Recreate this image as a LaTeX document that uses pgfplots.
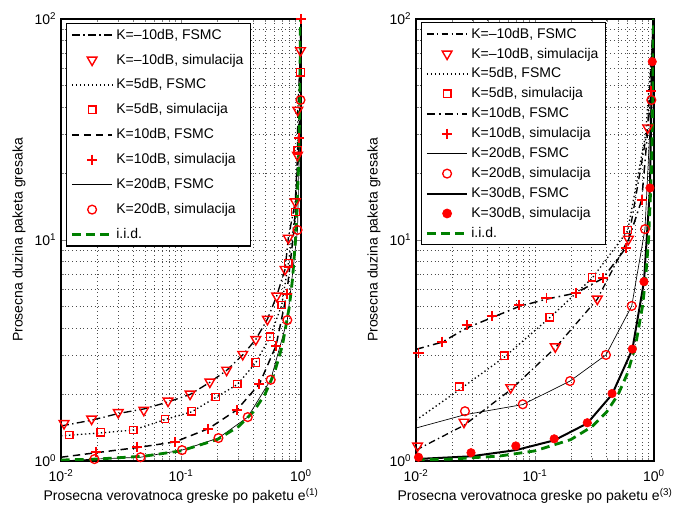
\documentclass[border=0pt]{standalone}
\usepackage{fontspec}
\setmainfont{Liberation Sans}
\usepackage{pgfplots}
\pgfplotsset{compat=1.18}
\definecolor{mgreen}{rgb}{0,0.5,0}
\begin{document}
\begin{tikzpicture}
\useasboundingbox (0,0) rectangle (515.25pt,382.5pt);
% ---------------- left ----------------
\begin{axis}[at={(45.75pt,36.75pt)}, anchor=south west,
  scale only axis, width=180pt, height=331.5pt,
  xmode=log, ymode=log,
  xmin=0.01, xmax=1, ymin=1, ymax=100,
  xtick={0.01,0.1,1},
  xticklabels={10\textsuperscript{-2},10\textsuperscript{-1},10\textsuperscript{0}},
  ytick={1,10,100},
  yticklabels={10\textsuperscript{0},10\textsuperscript{1},10\textsuperscript{2}},
  minor xtick={0.02,0.03,0.04,0.05,0.06,0.07,0.08,0.09,0.2,0.3,0.4,0.5,0.6,0.7,0.8,0.9},
  minor ytick={2,3,4,5,6,7,8,9,20,30,40,50,60,70,80,90},
  grid=both,
  major grid style={black!70, dash pattern=on 0.6pt off 2.2pt, line width=0.45pt},
  minor grid style={black!70, dash pattern=on 0.6pt off 2.2pt, line width=0.45pt},
  tick align=inside,
  major tick length=3.5pt, minor tick length=2pt,
  axis line style={line width=0.9pt},
  tick label style={font=\fontsize{10.5}{12}\selectfont},
  xticklabel style={yshift=-3pt},
  label style={font=\fontsize{10.5}{12}\selectfont},
  xlabel style={yshift=2pt},
  xlabel={Prosecna verovatnoca greske po paketu e\textsuperscript{(1)}},
  ylabel={Prosecna duzina paketa gresaka},
  legend cell align=left,
  legend style={font=\fontsize{10.5}{12}\selectfont, draw=black, line width=0.9pt,
    at={(0,1)}, anchor=north west, xshift=3.75pt, yshift=-3pt, row sep=5.6pt},
  legend image code/.code={\draw[mark repeat=2,mark phase=2] plot coordinates {(0cm,0cm) (0.53cm,0cm) (1.06cm,0cm)};},
]
\addplot[black, line width=1pt, no marks, dash pattern=on 6pt off 2.5pt on 1pt off 2.5pt] coordinates {(0.01,1.44) (0.018,1.53) (0.03,1.64) (0.049,1.72) (0.078,1.85) (0.119,2.0) (0.174,2.27) (0.24,2.57) (0.327,3.02) (0.42,3.55) (0.525,4.38) (0.627,5.58) (0.736,7.37) (0.784,10.2) (0.896,14.9) (0.935,24.2) (0.94,38.7) (0.99,72) (0.995,100)};
\addlegendentry{K=–10dB, FSMC}
\addplot[red, only marks, line width=1.05pt, mark=triangle, mark size=4.2pt, mark options={rotate=180}] coordinates {(0.0106,1.48) (0.018,1.55) (0.030,1.66) (0.049,1.70) (0.078,1.87) (0.119,2.01) (0.174,2.28) (0.240,2.58) (0.327,3.04) (0.42,3.55) (0.525,4.38) (0.627,5.58) (0.736,7.37) (0.784,10.2) (0.896,14.9) (0.935,24.2) (0.94,38.7) (0.99,72)};
\addlegendentry{K=–10dB, simulacija}
\addplot[black, line width=1pt, no marks, dotted] coordinates {(0.01,1.30) (0.0214,1.34) (0.040,1.38) (0.0736,1.54) (0.123,1.67) (0.195,1.94) (0.295,2.22) (0.419,2.78) (0.552,3.64) (0.69,5.07) (0.784,7.8) (0.9,13.4) (0.94,25.5) (0.99,57) (0.995,100)};
\addlegendentry{K=5dB, FSMC}
\addplot[red, only marks, line width=1pt, mark=square, mark size=2.8pt] coordinates {(0.0117,1.31) (0.0214,1.35) (0.040,1.38) (0.0736,1.55) (0.123,1.68) (0.195,1.95) (0.295,2.23) (0.419,2.79) (0.552,3.65) (0.69,5.08) (0.784,7.84) (0.9,13.4) (0.94,25.5) (0.99,57.4)};
\addlegendentry{K=5dB, simulacija}
\addplot[black, line width=1.1pt, no marks, dash pattern=on 5.5pt off 3.5pt] coordinates {(0.01,1.04) (0.0196,1.09) (0.0432,1.15) (0.089,1.22) (0.169,1.40) (0.291,1.70) (0.45,2.23) (0.619,3.32) (0.76,5.68) (0.88,11.5) (0.97,28.9) (0.998,100)};
\addlegendentry{K=10dB, FSMC}
\addplot[red, only marks, line width=1.4pt, mark=+, mark size=3.8pt] coordinates {(0.0196,1.10) (0.0432,1.16) (0.089,1.22) (0.169,1.40) (0.291,1.70) (0.45,2.23) (0.619,3.32) (0.76,5.68) (0.97,28.9) (0.998,100)};
\addlegendentry{K=10dB, simulacija}
\addplot[black, line width=0.5pt, no marks] coordinates {(0.01,1.0) (0.019,1.02) (0.046,1.04) (0.102,1.12) (0.205,1.27) (0.36,1.58) (0.559,2.33) (0.769,4.34) (0.935,11.1) (0.99,43) (0.998,100)};
\addlegendentry{K=20dB, FSMC}
\addplot[red, only marks, line width=1pt, mark=o, mark size=3.3pt] coordinates {(0.019,1.02) (0.046,1.04) (0.102,1.12) (0.205,1.27) (0.36,1.58) (0.559,2.33) (0.769,4.34) (0.935,11.1) (0.99,43)};
\addlegendentry{K=20dB, simulacija}
\addplot[mgreen, line width=2.1pt, dash pattern=on 6.5pt off 4pt, no marks] coordinates {(0.01,1.0101) (0.02,1.0204) (0.05,1.0526) (0.1,1.1111) (0.2,1.25) (0.3,1.4286) (0.4,1.6667) (0.5,2) (0.6,2.5) (0.7,3.3333) (0.8,5) (0.85,6.6667) (0.9,10) (0.95,20) (0.97,33.33) (0.98,50) (0.99,100)};
\addlegendentry{i.i.d.}
\end{axis}
% ---------------- right ----------------
\begin{axis}[at={(312pt,36.75pt)}, anchor=south west,
  scale only axis, width=178.5pt, height=331.5pt,
  xmode=log, ymode=log,
  xmin=0.01, xmax=1, ymin=1, ymax=100,
  xtick={0.01,0.1,1},
  xticklabels={10\textsuperscript{-2},10\textsuperscript{-1},10\textsuperscript{0}},
  ytick={1,10,100},
  yticklabels={10\textsuperscript{0},10\textsuperscript{1},10\textsuperscript{2}},
  minor xtick={0.02,0.03,0.04,0.05,0.06,0.07,0.08,0.09,0.2,0.3,0.4,0.5,0.6,0.7,0.8,0.9},
  minor ytick={2,3,4,5,6,7,8,9,20,30,40,50,60,70,80,90},
  grid=both,
  major grid style={black!70, dash pattern=on 0.6pt off 2.2pt, line width=0.45pt},
  minor grid style={black!70, dash pattern=on 0.6pt off 2.2pt, line width=0.45pt},
  tick align=inside,
  major tick length=3.5pt, minor tick length=2pt,
  axis line style={line width=0.9pt},
  tick label style={font=\fontsize{10.5}{12}\selectfont},
  xticklabel style={yshift=-3pt},
  label style={font=\fontsize{10.5}{12}\selectfont},
  xlabel style={yshift=2pt},
  xlabel={Prosecna verovatnoca greske po paketu e\textsuperscript{(3)}},
  ylabel={Prosecna duzina paketa gresaka},
  legend cell align=left,
  legend style={font=\fontsize{10.5}{12}\selectfont, draw=black, line width=0.9pt,
    at={(0,1)}, anchor=north west, xshift=3.75pt, yshift=-2.25pt, row sep=1.85pt},
  legend image code/.code={\draw[mark repeat=2,mark phase=2] plot coordinates {(0cm,0cm) (0.53cm,0cm) (1.06cm,0cm)};},
]
\addplot[black, line width=1pt, no marks, dash pattern=on 5pt off 2.5pt on 1pt off 2.5pt] coordinates {(0.01,1.12) (0.0253,1.45) (0.0625,2.1) (0.148,3.25) (0.334,5.4) (0.61,10.1) (0.885,32.2) (0.99,100)};
\addlegendentry{K=–10dB, FSMC}
\addplot[red, only marks, line width=1.05pt, mark=triangle, mark size=4.2pt, mark options={rotate=180}] coordinates {(0.0103,1.17) (0.0253,1.50) (0.0625,2.15) (0.148,3.29) (0.334,5.41) (0.61,10.1) (0.885,32.2)};
\addlegendentry{K=–10dB, simulacija}
\addplot[black, line width=1pt, no marks, dotted] coordinates {(0.01,1.53) (0.0231,2.1) (0.0552,2.95) (0.133,4.45) (0.301,6.7) (0.601,11) (0.85,30) (0.97,80) (0.99,100)};
\addlegendentry{K=5dB, FSMC}
\addplot[red, only marks, line width=1pt, mark=square, mark size=2.8pt] coordinates {(0.0231,2.17) (0.0552,2.99) (0.133,4.47) (0.301,6.78) (0.601,11.1)};
\addlegendentry{K=5dB, simulacija}
\addplot[black, line width=1.1pt, no marks, dash pattern=on 6pt off 3pt on 1.2pt off 3pt] coordinates {(0.01,3.2) (0.0166,3.45) (0.0267,4.0) (0.0433,4.45) (0.0734,5.0) (0.125,5.4) (0.22,5.75) (0.371,6.7) (0.58,9.2) (0.789,15.2) (0.944,47.2) (0.99,100)};
\addlegendentry{K=10dB, FSMC}
\addplot[red, only marks, line width=1.4pt, mark=+, mark size=3.8pt] coordinates {(0.0105,3.07) (0.0166,3.47) (0.0267,4.11) (0.0433,4.52) (0.0734,5.10) (0.125,5.47) (0.22,5.78) (0.371,6.73) (0.58,9.2) (0.789,15.2) (0.944,47.2)};
\addlegendentry{K=10dB, simulacija}
\addplot[black, line width=0.5pt, no marks] coordinates {(0.01,1.41) (0.0258,1.62) (0.0789,1.80) (0.197,2.30) (0.395,3.02) (0.65,5.03) (0.84,11.2) (0.95,43) (0.99,100)};
\addlegendentry{K=20dB, FSMC}
\addplot[red, only marks, line width=1pt, mark=o, mark size=3.3pt] coordinates {(0.0258,1.68) (0.0789,1.805) (0.197,2.30) (0.395,3.02) (0.65,5.03) (0.84,11.2) (0.95,43)};
\addlegendentry{K=20dB, simulacija}
\addplot[black, line width=1.5pt, no marks] coordinates {(0.01,1.02) (0.029,1.05) (0.069,1.12) (0.145,1.24) (0.275,1.48) (0.444,2.0) (0.658,3.2) (0.824,6.48) (0.925,17.2) (0.967,64) (0.985,100)};
\addlegendentry{K=30dB, FSMC}
\addplot[red, only marks, mark=*, mark size=3.2pt] coordinates {(0.0105,1.04) (0.029,1.09) (0.069,1.17) (0.145,1.26) (0.275,1.49) (0.444,2.02) (0.658,3.21) (0.824,6.48) (0.925,17.2) (0.967,64.1)};
\addlegendentry{K=30dB, simulacija}
\addplot[mgreen, line width=2.1pt, dash pattern=on 6.5pt off 4pt, no marks] coordinates {(0.01,1.0101) (0.02,1.0204) (0.05,1.0526) (0.1,1.1111) (0.2,1.25) (0.3,1.4286) (0.4,1.6667) (0.5,2) (0.6,2.5) (0.7,3.3333) (0.8,5) (0.85,6.6667) (0.9,10) (0.95,20) (0.97,33.33) (0.98,50) (0.99,100)};
\addlegendentry{i.i.d.}
\end{axis}
\end{tikzpicture}
\end{document}
